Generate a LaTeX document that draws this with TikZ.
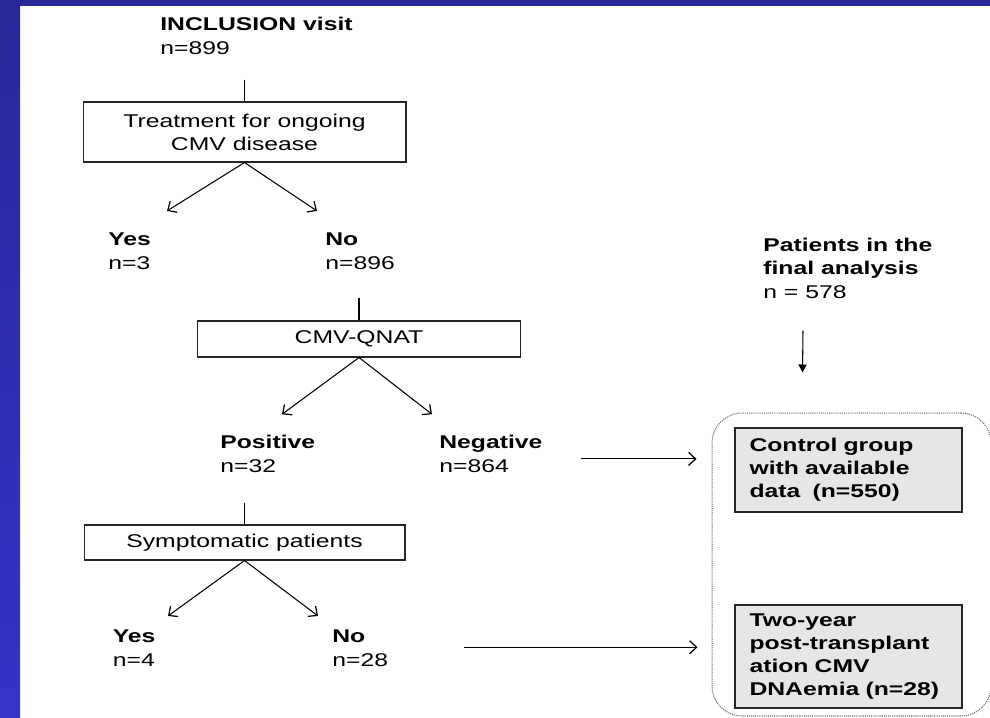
\documentclass[tikz,border=0pt]{standalone}
\usepackage{fontspec}
\setmainfont[FakeStretch=1.34]{Liberation Sans}
\usetikzlibrary{arrows.meta}

\definecolor{slideblue}{HTML}{28289A}
\definecolor{slidebluelow}{HTML}{3434C8}
\definecolor{boxgrey}{HTML}{E6E6E6}
\newcommand{\chartfont}{\fontsize{10.5}{13.1}\selectfont}

\tikzset{
  flowbox/.style={draw=black!85, line width=0.6pt, inner sep=0pt, align=center},
  greybox/.style={draw=black!85, fill=boxgrey, line width=0.7pt, inner sep=0pt,
    text width=3.96cm, align=left, font=\chartfont\bfseries},
  lbl/.style={inner sep=0pt, anchor=base west, align=left},
  barb/.style={line width=0.6pt, -{Straight Barb[length=1.4mm,width=2.6mm,line width=0.7pt]}},
  tri/.style={line width=0.6pt, -{Triangle[length=1.6mm,width=1.6mm]}},
}

\begin{document}
\begin{tikzpicture}[x=0.02cm, y=-0.02cm, font=\chartfont]
        \useasboundingbox (0,0) rectangle (990,717);
        % slide frame
        \fill[white] (0,0) rectangle (990,717);
        \shade[top color=slideblue, bottom color=slidebluelow] (0,0) rectangle (20,717);
        \fill[slideblue] (0,0) rectangle (990,6);
        % decision tree (labels sit on their last baseline)
        \node[lbl] (incl) at (160,54) {\textbf{INCLUSION visit}\\n=899};
        \node[flowbox, minimum width=6.46cm, minimum height=1.2cm] (treat) at (244.5,132) {Treatment for ongoing\\CMV disease};
        \node[lbl] (yes1) at (108,269) {\textbf{Yes}\\n=3};
        \node[lbl] (no1) at (325,269) {\textbf{No}\\n=896};
        \node[flowbox, minimum width=6.46cm, minimum height=0.72cm] (qnat) at (359,339) {CMV-QNAT};
        \node[lbl] (pos) at (220,472) {\textbf{Positive}\\n=32};
        \node[lbl] (neg) at (439,472) {\textbf{Negative}\\n=864};
        \node[flowbox, minimum width=6.42cm, minimum height=0.7cm] (sympt) at (244.5,542.5) {Symptomatic patients};
        \node[lbl] (yes2) at (112.5,666) {\textbf{Yes}\\n=4};
        \node[lbl] (no2) at (332,666) {\textbf{No}\\n=28};
        % final analysis
        \node[lbl] (final) at (763,298) {\textbf{Patients in the}\\\textbf{final analysis}\\n = 578};
        \node[draw=black!60, line width=0.6pt, dash pattern=on 0.6pt off 0.6pt, rounded corners=0.6cm,
          minimum width=5.58cm, minimum height=6.06cm] (grp) at (851.5,564.5) {};
        \node[greybox, minimum width=4.54cm, minimum height=1.68cm] (ctrl) at (848.5,470) {Control group\\with available\\data~~(n=550)};
        \node[greybox, minimum width=4.54cm, minimum height=2.06cm] (dnae) at (848.5,656.5) {Two-year\\post-transplant\\ation CMV\\DNAemia (n=28)};
        % stems
        \draw[line width=0.6pt, shorten <=0.5cm] (incl.south -| treat.north) -- (treat.north);
        \draw[line width=0.6pt, shorten <=0.56cm] (no1.south -| qnat.north) -- (qnat.north);
        \draw[line width=0.6pt, shorten <=0.6cm] (pos.south -| sympt.north) -- (sympt.north);
        % branches
        \draw[barb] (treat.south) -- ([shift={(59,-22)}]yes1.north west);
        \draw[barb] (treat.south) -- ([shift={(-8,-22)}]no1.north west);
        \draw[barb] (qnat.south) -- ([shift={(62,-21)}]pos.north west);
        \draw[barb] (qnat.south) -- ([shift={(-7,-21)}]neg.north west);
        \draw[barb] (sympt.south) -- ([shift={(55.5,-14)}]yes2.north west);
        \draw[barb] (sympt.south) -- ([shift={(-14,-14)}]no2.north west);
        % into the analysis
        \draw[barb] ([shift={(38,5)}]neg.east) -- ([shift={(-15,5)}]neg.east -| grp.west);
        \draw[barb] ([shift={(76,-1)}]no2.east) -- ([shift={(-14,-1)}]no2.east -| grp.west);
        \draw[tri] ([shift={(40,32)}]final.south west) -- ([shift={(91,-40)}]grp.north west);
\end{tikzpicture}
\end{document}
